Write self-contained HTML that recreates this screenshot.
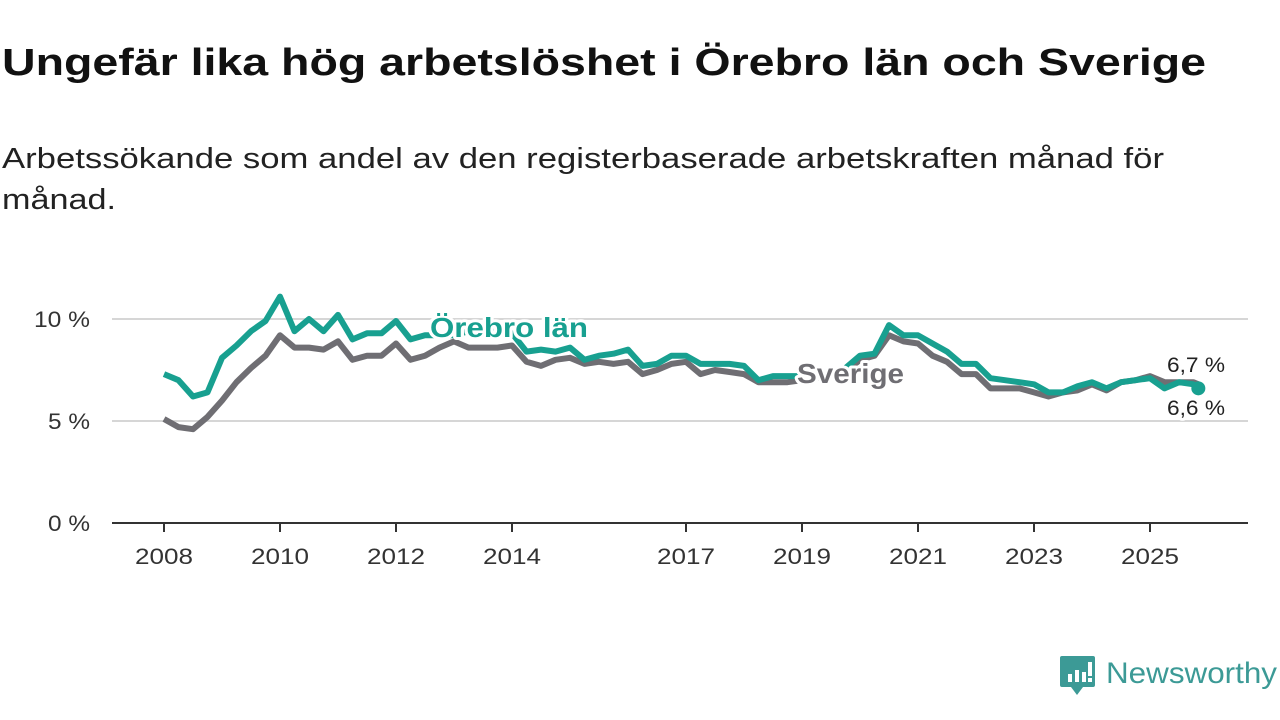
<!DOCTYPE html>
<html><head><meta charset="utf-8"><style>
html,body{margin:0;padding:0;background:#fff;}
svg{display:block;font-family:"Liberation Sans","DejaVu Sans",sans-serif;}
</style></head><body>
<svg id="chart" width="1280" height="720" viewBox="0 0 1280 720">
<text x="2" y="75" font-size="38" font-weight="bold" fill="#111" textLength="1204" lengthAdjust="spacingAndGlyphs">Ungefär lika hög arbetslöshet i Örebro län och Sverige</text>
<text x="2" y="168" font-size="29" fill="#222" textLength="1162" lengthAdjust="spacingAndGlyphs">Arbetssökande som andel av den registerbaserade arbetskraften månad för</text>
<text x="2" y="209" font-size="29" fill="#222" textLength="114" lengthAdjust="spacingAndGlyphs">månad.</text>
<g id="grid"></g><g id="axes"></g><g id="lines"></g><g id="labels"></g>
<g>
<path d="M1062 656 h31 a2 2 0 0 1 2 2 v27 a2 2 0 0 1 -2 2 h-10 l-6 8 l-6 -8 h-9 a2 2 0 0 1 -2 -2 v-27 a2 2 0 0 1 2 -2z" fill="#3c9a96"/>
<rect x="1068" y="674" width="4" height="8" fill="#fff"/><rect x="1075" y="670" width="4" height="12" fill="#fff"/><rect x="1082" y="672" width="4" height="10" fill="#fff"/><rect x="1088" y="662" width="4" height="14" fill="#fff"/><rect x="1088" y="678" width="4" height="4" fill="#fff"/>
<text x="1106" y="683" font-size="30" fill="#3c9a96" textLength="171" lengthAdjust="spacingAndGlyphs">Newsworthy</text>
</g>
</svg>
<script>
const orebro = [7.3,7.0,6.2,6.4, 8.1,8.7,9.4,9.9, 11.1,9.4,10.0,9.4, 10.2,9.0,9.3,9.3, 9.9,9.0,9.2,9.2, 9.2,9.4,9.5,9.5, 9.3,8.4,8.5,8.4, 8.6,8.0,8.2,8.3, 8.5,7.7,7.8,8.2, 8.2,7.8,7.8,7.8, 7.7,7.0,7.2,7.2, 7.2,7.3,7.4,7.6, 8.2,8.3,9.7,9.2, 9.2,8.8,8.4,7.8, 7.8,7.1,7.0,6.9, 6.8,6.4,6.4,6.7, 6.9,6.6,6.9,7.0, 7.1,6.6,6.9,6.8,6.6];
const sverige = [5.1,4.7,4.6,5.2, 6.0,6.9,7.6,8.2, 9.2,8.6,8.6,8.5, 8.9,8.0,8.2,8.2, 8.8,8.0,8.2,8.6, 8.9,8.6,8.6,8.6, 8.7,7.9,7.7,8.0, 8.1,7.8,7.9,7.8, 7.9,7.3,7.5,7.8, 7.9,7.3,7.5,7.4, 7.3,6.9,6.9,6.9, 7.0,7.1,7.2,7.4, 8.0,8.2,9.2,8.9, 8.8,8.2,7.9,7.3, 7.3,6.6,6.6,6.6, 6.4,6.2,6.4,6.5, 6.8,6.5,6.9,7.0, 7.2,6.9,6.9,6.9,6.8];
const xTicks = [2008,2010,2012,2014,2017,2019,2021,2023,2025];
const yTicks = [0,5,10];
const yTickLabels = ["0 %","5 %","10 %"];
const endLabels = ["6,7 %","6,6 %"];
const dates = [];
for (let i=0;i<72;i++) dates.push(2008+i*0.25);
dates.push(2025+10/12);

const NS="http://www.w3.org/2000/svg";
const xs = yr => 164 + (yr-2008)*58;
const ys = v => 523 - v*20.4;
function mk(tag, parent, attrs){const e=document.createElementNS(NS,tag);for(const k in attrs)e.setAttribute(k,attrs[k]);document.getElementById(parent).appendChild(e);return e;}

yTicks.forEach((t,i)=>{
  if(t>0){const g=mk('line','grid',{x1:112,x2:1248,y1:ys(t),y2:ys(t),stroke:'#d6d6d6','stroke-width':2});
  
  }
  const l=mk('text','axes',{x:90,y:ys(t)+8,'font-size':22,'text-anchor':'end',fill:'#333',textLength:(yTickLabels[i].length*14),lengthAdjust:'spacingAndGlyphs'});
  l.textContent=yTickLabels[i];
  
  
});
const ax=mk('line','axes',{x1:112,x2:1248,y1:523,y2:523,stroke:'#333','stroke-width':2});


xTicks.forEach(t=>{
  const tk=mk('line','axes',{x1:xs(t),x2:xs(t),y1:523,y2:532,stroke:'#333','stroke-width':2});
  
  
  const l=mk('text','axes',{x:xs(t),y:564,'font-size':22,'text-anchor':'middle',fill:'#333',textLength:58,lengthAdjust:'spacingAndGlyphs'});
  l.textContent=t;
  
  
});
function pts(arr){return arr.map((v,i)=>xs(dates[i]).toFixed(1)+','+ys(v).toFixed(1)).join(' ');}
const ls=mk('polyline','lines',{points:pts(sverige),fill:'none',stroke:'#6f6e73','stroke-width':6,'stroke-linejoin':'round'});


const lo=mk('polyline','lines',{points:pts(orebro),fill:'none',stroke:'#18a090','stroke-width':6,'stroke-linejoin':'round'});


const n=dates.length-1;
const d1=mk('circle','lines',{cx:xs(dates[n]),cy:ys(orebro[n]),r:7,fill:'#18a090'});



function lab(txt,x,y,size,color,name,bold,len){
  const h=mk('text','labels',{x:x,y:y,'font-size':size,'font-weight':bold?'bold':'normal',fill:'none',stroke:'#fff','stroke-width':6,'stroke-linejoin':'round',textLength:len,lengthAdjust:'spacingAndGlyphs'});
  h.textContent=txt;
  
  
  const t=mk('text','labels',{x:x,y:y,'font-size':size,'font-weight':bold?'bold':'normal',fill:color,textLength:len,lengthAdjust:'spacingAndGlyphs'});
  t.textContent=txt;
  
  
}
lab('Örebro län',430,337,28,'#18a090','label-orebro-lan',true,158);
lab('Sverige',797,383,28,'#6f6e73','label-sverige',true,107);
lab(endLabels[0],1167,372,21,'#222','end-label-sverige',false,58);
lab(endLabels[1],1167,415,21,'#222','end-label-orebro',false,58);
</script>
</body></html>
